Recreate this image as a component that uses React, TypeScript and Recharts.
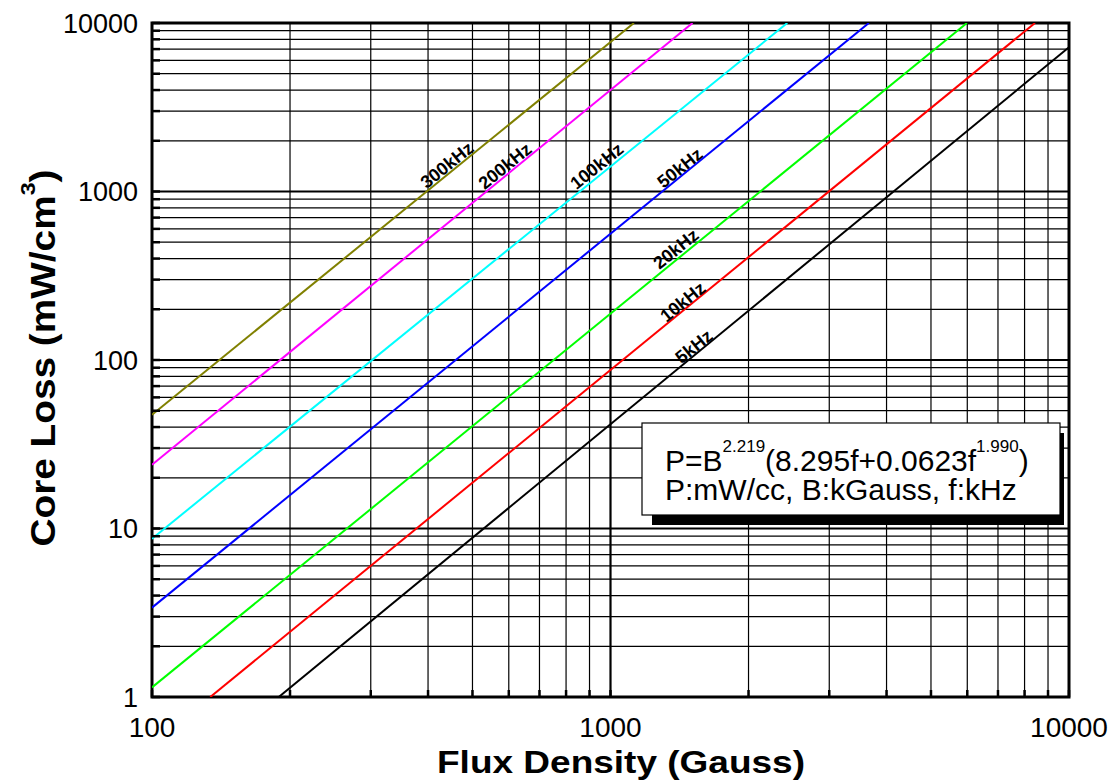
import React from "react";
import {
  ComposedChart,
  Line,
  XAxis,
  YAxis,
  CartesianGrid,
  ReferenceDot,
  ReferenceArea,
} from "recharts";

const FONT = "'Liberation Sans', Arial, Helvetica, sans-serif";

// axis ticks (every one gets a grid line, only the decades get a label)
const X_TICKS = [
  100, 200, 300, 400, 500, 600, 700, 800, 900, 1000, 2000, 3000, 4000, 5000,
  6000, 7000, 8000, 9000, 10000,
];
const X_LABELED = [100, 1000, 10000];
const Y_TICKS = [
  1, 2, 3, 4, 5, 6, 7, 8, 9, 10, 20, 30, 40, 50, 60, 70, 80, 90, 100, 200,
  300, 400, 500, 600, 700, 800, 900, 1000, 2000, 3000, 4000, 5000, 6000, 7000,
  8000, 9000, 10000,
];
const Y_LABELED = [1, 10, 100, 1000, 10000];

// core loss curves, end points (Gauss, mW/cm3)
const CURVE_5K = [
  { x: 189, y: 1 },
  { x: 10000, y: 7180 },
];
const CURVE_10K = [
  { x: 134, y: 1 },
  { x: 8430, y: 10000 },
];
const CURVE_20K = [
  { x: 100, y: 1.14 },
  { x: 5990, y: 10000 },
];
const CURVE_50K = [
  { x: 100, y: 3.39 },
  { x: 3660, y: 10000 },
];
const CURVE_100K = [
  { x: 100, y: 8.7 },
  { x: 2430, y: 10000 },
];
const CURVE_200K = [
  { x: 100, y: 23.9 },
  { x: 1510, y: 10000 },
];
const CURVE_300K = [
  { x: 100, y: 47.3 },
  { x: 1125, y: 10000 },
];

const SERIES = [
  { name: "5kHz", color: "#000000", points: CURVE_5K },
  { name: "10kHz", color: "#ff0000", points: CURVE_10K },
  { name: "20kHz", color: "#00ff00", points: CURVE_20K },
  { name: "50kHz", color: "#0000ff", points: CURVE_50K },
  { name: "100kHz", color: "#00ffff", points: CURVE_100K },
  { name: "200kHz", color: "#ff00ff", points: CURVE_200K },
  { name: "300kHz", color: "#808000", points: CURVE_300K },
];

// where the frequency tags sit along the curves
const TAGS = [
  { text: "300kHz", x: 440, y: 1435 },
  { text: "200kHz", x: 589, y: 1415 },
  { text: "100kHz", x: 934, y: 1415 },
  { text: "50kHz", x: 1418, y: 1377 },
  { text: "20kHz", x: 1389, y: 456 },
  { text: "10kHz", x: 1439, y: 221 },
  { text: "5kHz", x: 1521, y: 120 },
];

const majorX = [1000];
const majorY = [10, 100, 1000];

function gridWidth(v: number | undefined, majors: number[]) {
  if (v === undefined) return 0;
  return majors.includes(v) ? 2.2 : 1.2;
}

const hLine = (p: any) => {
  const w = gridWidth(Y_TICKS[p.index], majorY);
  if (!w) return <g key={p.key} />;
  return (
    <line key={p.key} x1={p.x1} y1={p.y1} x2={p.x2} y2={p.y2} stroke="#000" strokeWidth={w} />
  );
};

const vLine = (p: any) => {
  const w = gridWidth(X_TICKS[p.index], majorX);
  if (!w) return <g key={p.key} />;
  return (
    <line key={p.key} x1={p.x1} y1={p.y1} x2={p.x2} y2={p.y2} stroke="#000" strokeWidth={w} />
  );
};

const XTick = (props: any) => {
  const { x, y, payload } = props;
  if (!X_LABELED.includes(payload.value)) return <g />;
  return (
    <text x={x} y={y + 40} textAnchor="middle" fontFamily={FONT} fontSize={28} fill="#000">
      {payload.value}
    </text>
  );
};

const YTick = (props: any) => {
  const { x, y, payload } = props;
  if (!Y_LABELED.includes(payload.value)) return <g />;
  return (
    <text x={x} y={y} dy="0.36em" textAnchor="end" fontFamily={FONT} fontSize={27} fill="#000">
      {payload.value}
    </text>
  );
};

const tagShape = (text: string) => (p: any) =>
  (
    <text
      x={p.cx}
      y={p.cy}
      transform={`rotate(-39 ${p.cx} ${p.cy})`}
      textAnchor="middle"
      dominantBaseline="central"
      fontFamily={FONT}
      fontWeight="bold"
      fontSize={18}
      fill="#000"
    >
      {text}
    </text>
  );

export default function App() {
  return (
    <div style={{ position: "absolute", left: 0, top: 0, width: 1112, height: 781, background: "#fff" }}>
      <ComposedChart width={1112} height={781} margin={{ top: 23, right: 43, bottom: 0, left: 0 }}>
        <CartesianGrid horizontal={hLine} vertical={vLine} />
        <XAxis
          type="number"
          dataKey="x"
          scale="log"
          domain={[100, 10000]}
          ticks={X_TICKS}
          interval={0}
          allowDataOverflow
          height={84}
          axisLine={false}
          tickSize={-7}
          tickMargin={7}
          tickLine={{ stroke: "#000", strokeWidth: 2.5 }}
          tick={XTick}
        />
        <YAxis
          type="number"
          dataKey="y"
          scale="log"
          domain={[1, 10000]}
          ticks={Y_TICKS}
          interval={0}
          allowDataOverflow
          width={152}
          axisLine={false}
          tickSize={-8}
          tickMargin={22}
          tickLine={{ stroke: "#000", strokeWidth: 2.5 }}
          tick={YTick}
        />
        {SERIES.map((s) => (
          <Line
            key={s.name}
            name={s.name}
            data={s.points}
            dataKey="y"
            type="linear"
            stroke={s.color}
            strokeWidth={2}
            dot={false}
            activeDot={false}
            isAnimationActive={false}
          />
        ))}
        <ReferenceArea
          x1={100}
          x2={10000}
          y1={1}
          y2={10000}
          fill="none"
          fillOpacity={0}
          stroke="#000"
          strokeWidth={3}
          ifOverflow="visible"
        />
        {TAGS.map((t) => (
          <ReferenceDot key={t.text} x={t.x} y={t.y} r={0} shape={tagShape(t.text)} />
        ))}
      </ComposedChart>

      <svg
        width={1112}
        height={781}
        style={{ position: "absolute", left: 0, top: 0, pointerEvents: "none" }}
        fontFamily={FONT}
      >
        {/* formula box */}
        <rect x={652} y={433} width={412} height={92} fill="#000" />
        <rect x={642} y={423} width={418} height={92} fill="#fff" stroke="#000" strokeWidth={1.2} />
        <text x={665} y={471} fontSize={30} fill="#000">
          P=B
          <tspan dy={-19} fontSize={17}>2.219</tspan>
          <tspan dy={19}>(8.295f+0.0623f</tspan>
          <tspan dy={-19} fontSize={17}>1.990</tspan>
          <tspan dy={19}>)</tspan>
        </text>
        <text x={665} y={500} fontSize={30} fill="#000">
          P:mW/cc, B:kGauss, f:kHz
        </text>

        {/* axis titles */}
        <text
          x={621}
          y={773}
          textAnchor="middle"
          fontSize={32}
          fontWeight="bold"
          textLength={368}
          lengthAdjust="spacingAndGlyphs"
          fill="#000"
        >
          Flux Density (Gauss)
        </text>
        <text
          transform="translate(55 358) rotate(-90)"
          textAnchor="middle"
          fontSize={35}
          fontWeight="bold"
          textLength={377}
          lengthAdjust="spacingAndGlyphs"
          fill="#000"
        >
          Core Loss (mW/cm
          <tspan dy={-20} fontSize={21}>3</tspan>
          <tspan dy={20}>)</tspan>
        </text>
      </svg>
    </div>
  );
}
